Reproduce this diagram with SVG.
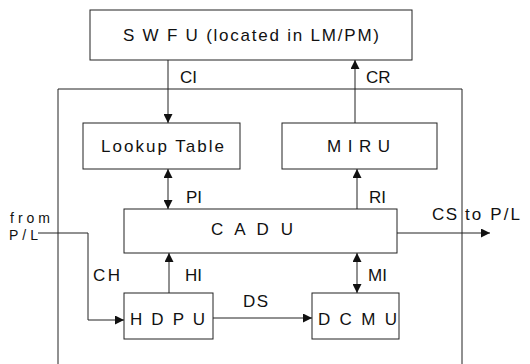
<svg xmlns="http://www.w3.org/2000/svg" width="530" height="364" viewBox="0 0 530 364">
<style>
.box{fill:#fff;stroke:#222;stroke-width:1}
.ln{fill:none;stroke:#222;stroke-width:1}
text{font-family:"Liberation Sans",Arial,sans-serif;font-size:17px;fill:#111}
.sm{font-size:14px}
</style>
<defs>
<marker id="ah" viewBox="0 0 10 10" refX="10" refY="5" markerWidth="9" markerHeight="9" markerUnits="userSpaceOnUse" orient="auto-start-reverse">
<path d="M0,0 L10,5 L0,10 Z" fill="#111"/>
</marker>
</defs>
<rect width="530" height="364" fill="#fff"/>
<g id="container">
<path class="ln" d="M58,364 V89 H462 V364"/>
</g>
<g id="connectors">
<line class="ln" x1="168" y1="60" x2="168" y2="123" marker-end="url(#ah)"/>
<line class="ln" x1="355" y1="123" x2="355" y2="60" marker-end="url(#ah)"/>
<line class="ln" x1="168" y1="169" x2="168" y2="209" marker-start="url(#ah)" marker-end="url(#ah)"/>
<line class="ln" x1="357" y1="209" x2="357" y2="169" marker-end="url(#ah)"/>
<line class="ln" x1="397" y1="233" x2="490" y2="233" marker-end="url(#ah)"/>
<path class="ln" d="M38,233 H88 V320 H124" marker-end="url(#ah)"/>
<line class="ln" x1="169" y1="293" x2="169" y2="253" marker-end="url(#ah)"/>
<line class="ln" x1="357" y1="253" x2="357" y2="293" marker-start="url(#ah)" marker-end="url(#ah)"/>
<line class="ln" x1="213" y1="318" x2="312" y2="318" marker-end="url(#ah)"/>
<text x="180" y="83">CI</text>
<text x="366" y="83">CR</text>
<text x="186" y="203">PI</text>
<text x="369" y="203">RI</text>
<text x="432" y="220" textLength="25">CS</text>
<text x="465" y="220" textLength="55">to P/L</text>
<text class="sm" x="10" y="223" textLength="40">from</text>
<text class="sm" x="9" y="240" textLength="29">P/L</text>
<text x="93" y="281" textLength="27">CH</text>
<text x="185" y="281">HI</text>
<text x="368" y="281">MI</text>
<text x="243" y="307" textLength="25">DS</text>
</g>
<g id="swfu">
<rect class="box" x="90" y="10" width="322" height="50"/>
<text x="123" y="41" textLength="256">S W F U (located in LM/PM)</text>
</g>
<g id="lookup">
<rect class="box" x="83" y="123" width="157" height="46"/>
<text x="101" y="152" textLength="123">Lookup Table</text>
</g>
<g id="miru">
<rect class="box" x="282" y="123" width="155" height="46"/>
<text x="327" y="152" textLength="63">M I R U</text>
</g>
<g id="cadu">
<rect class="box" x="124" y="209" width="273" height="44"/>
<text x="211" y="235" textLength="82">C A D U</text>
</g>
<g id="hdpu">
<rect class="box" x="124" y="293" width="89" height="46"/>
<text x="130" y="325" textLength="75">H D P U</text>
</g>
<g id="dcmu">
<rect class="box" x="312" y="293" width="87" height="46"/>
<text x="318" y="325" textLength="79">D C M U</text>
</g>
</svg>
